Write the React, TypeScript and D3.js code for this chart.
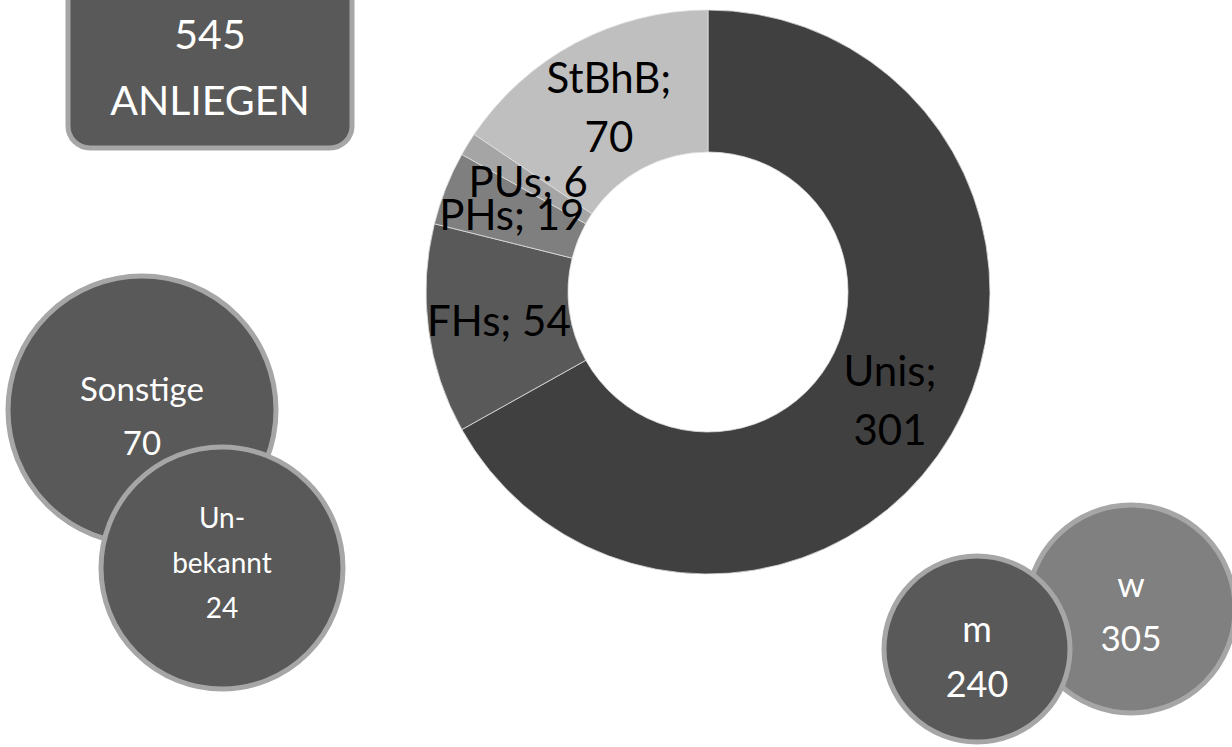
import { useMemo } from 'react';
import * as d3 from 'd3';

const WIDTH = 1232;
const HEIGHT = 747;

// donut data
const categories = ['Unis', 'FHs', 'PHs', 'PUs', 'StBhB'];
const counts = [301, 54, 19, 6, 70];
const sliceColors = ['#404040', '#595959', '#7f7f7f', '#a5a5a5', '#bfbfbf'];
// labels that wrap onto two lines
const wrapped = ['Unis', 'StBhB'];

// side bubbles
const bubbleLabels = [['Sonstige'], ['Un-', 'bekannt'], ['w'], ['m']];
const bubbleValues = [70, 24, 305, 240];
const bubbleFills = ['#595959', '#595959', '#808080', '#595959'];

const totalLabel = 'ANLIEGEN';

const FONT = "Lato, 'Open Sans', sans-serif";

// layout (positions / sizes of the decorative bubbles)
const BUBBLE_LAYOUT = [
    { cx: 142, cy: 410, r: 134, fontSize: 33, lineH: 54, dy: 5 },
    { cx: 222, cy: 568, r: 121, fontSize: 28, lineH: 45, dy: -6 },
    { cx: 1131, cy: 609, r: 104, fontSize: 35, lineH: 54, dy: 1 },
    { cx: 977, cy: 649, r: 93, fontSize: 36, lineH: 55, dy: 6 },
];

export default function App() {
    const cx = 708;
    const cy = 292;
    const outerR = 282;
    const innerR = 140;

    const arcs = useMemo(() => {
        const pie = d3
            .pie<number>()
            .sort(null)
            .value((d) => d);
        return pie(counts);
    }, []);

    const arcGen = d3.arc<d3.PieArcDatum<number>>().innerRadius(innerR).outerRadius(outerR);

    const total = d3.sum(bubbleValues.slice(2));

    return (
        <svg
            width={WIDTH}
            height={HEIGHT}
            style={{ position: 'absolute', left: 0, top: 0, background: '#fff' }}
            fontFamily={FONT}
        >
            {/* total box */}
            <rect x={68} y={-30} width={284} height={178} rx={22} fill="#595959" stroke="#a6a6a6" strokeWidth={5} />
            <text x={210} y={33} textAnchor="middle" dominantBaseline="central" fontSize={41} fill="#fff">
                {total}
            </text>
            <text x={210} y={99} textAnchor="middle" dominantBaseline="central" fontSize={41} fill="#fff">
                {totalLabel}
            </text>

            {/* donut */}
            <g transform={`translate(${cx},${cy})`}>
                {arcs.map((a, i) => (
                    <path key={i} d={arcGen(a) || ''} fill={sliceColors[i]} stroke="#e0e0e0" strokeWidth={0.8} />
                ))}
                {arcs.map((a, i) => {
                    const [x, y] = arcGen.centroid(a);
                    const name = categories[i];
                    if (wrapped.includes(name)) {
                        return (
                            <text key={i} textAnchor="middle" fontSize={42} fill="#000">
                                <tspan x={x} y={y - 29} dominantBaseline="central">{`${name};`}</tspan>
                                <tspan x={x} y={y + 30} dominantBaseline="central">{counts[i]}</tspan>
                            </text>
                        );
                    }
                    return (
                        <text key={i} x={x} y={y} textAnchor="middle" dominantBaseline="central" fontSize={42} fill="#000">
                            {`${name}; ${counts[i]}`}
                        </text>
                    );
                })}
            </g>

            {/* bubbles */}
            {bubbleValues.map((v, i) => {
                const L = BUBBLE_LAYOUT[i];
                const lines = [...bubbleLabels[i], String(v)];
                const start = L.cy + L.dy - ((lines.length - 1) * L.lineH) / 2;
                return (
                    <g key={i}>
                        <circle cx={L.cx} cy={L.cy} r={L.r} fill={bubbleFills[i]} stroke="#a6a6a6" strokeWidth={5} />
                        {lines.map((t, j) => (
                            <text
                                key={j}
                                x={L.cx}
                                y={start + j * L.lineH}
                                textAnchor="middle"
                                dominantBaseline="central"
                                fontSize={L.fontSize}
                                fill="#fff"
                            >
                                {t}
                            </text>
                        ))}
                    </g>
                );
            })}
        </svg>
    );
}
